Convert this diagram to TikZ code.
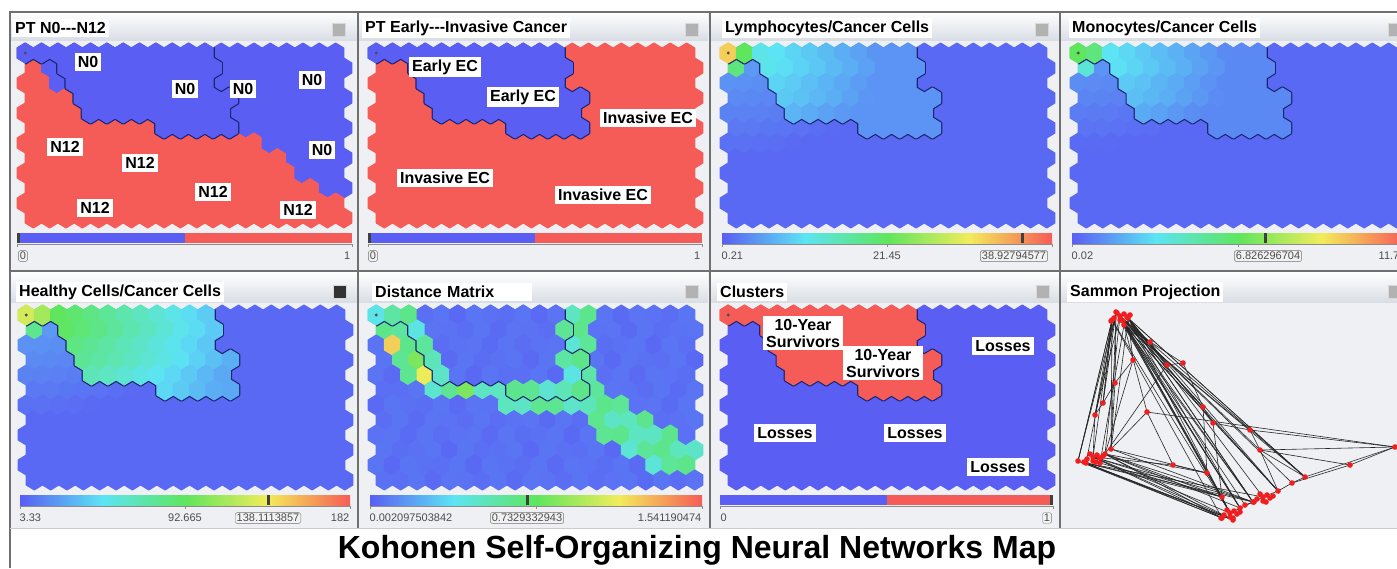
\documentclass[tikz,border=0pt]{standalone}
\usepackage{fontspec}
\setmainfont{Liberation Sans}
\usetikzlibrary{positioning,calc}
\definecolor{somblue}{HTML}{5A5EF3}
\definecolor{somred}{HTML}{F65C57}
\definecolor{somcyan}{HTML}{5CE4F4}
\definecolor{somgreen}{HTML}{5EE65E}
\definecolor{somyellow}{HTML}{F2EC5A}
\definecolor{panelgray}{HTML}{EEF0F3}
\definecolor{titlegray}{HTML}{D9DEE5}
\definecolor{framegray}{HTML}{707070}
\definecolor{edgenavy}{HTML}{1C2470}
\definecolor{dotred}{HTML}{F01E1E}

% hexagon half width and radius (pt)
\def\hexa{8.17}
\def\hexr{10}
% first / last column of each row for the cluster regions
\def\RL{{0,2,3,3,4,8,99,99,99,99,99,99}}
\def\RR{{11,11,11,12,12,12,-1,-1,-1,-1,-1,-1}}
\def\NL{{0,1,2,3,4,8,15,16,17,18,99,99}}
\def\DLa{{0,0,1,1,2,3,8,13,14,15,17,99}}
\def\DRa{{2,2,3,3,4,13,15,16,18,19,19,-1}}
\def\DLb{{12,11,12,11,12,99,99,99,99,99,99,99}}
\def\DRb{{13,12,13,12,13,-1,-1,-1,-1,-1,-1,-1}}

\newcommand\hexij[2]{({\mapx+\hexa*(1+2*#1+mod(#2,2))},{\mapy+1.5*\hexr*#2}) -- ++(\hexa,0.5*\hexr) -- ++(0,\hexr) -- ++(-\hexa,0.5*\hexr) -- ++(-\hexa,-0.5*\hexr) -- ++(0,-\hexr) -- cycle}

\newcommand\jetcolour[1]{%
  \pgfmathsetmacro\jv{4*min(max(#1,0),0.999)}%
  \pgfmathtruncatemacro\js{floor(\jv)}%
  \pgfmathtruncatemacro\jp{100*(\jv-\js)}%
  \ifcase\js\relax \colorlet{hexc}{somcyan!\jp!somblue}%
  \or \colorlet{hexc}{somgreen!\jp!somcyan}%
  \or \colorlet{hexc}{somyellow!\jp!somgreen}%
  \else \colorlet{hexc}{somred!\jp!somyellow}\fi}

\newcommand\hotspots[3]{%
  \ifnum\j=0 \ifnum\i=0 \def\vv{#1}\fi \ifnum\i=1 \def\vv{#2}\fi \fi
  \ifnum\j=1 \ifnum\i=0 \def\vv{#3}\fi \fi}

\newcommand\somcolour[1]{%
  \pgfmathtruncatemacro\inR{(\i>=\RL[\j])*(\i<=\RR[\j])}%
  \pgfmathsetmacro\dd{sqrt(\i*\i+1.69*\j*\j)}%
  \ifcase#1\relax
  \or % PT N0---N12
    \pgfmathtruncatemacro\inN{\i>=\NL[\j]}%
    \ifnum\inN=1 \colorlet{hexc}{somblue}\else\colorlet{hexc}{somred}\fi
  \or % PT Early---Invasive
    \ifnum\inR=1 \colorlet{hexc}{somblue}\else\colorlet{hexc}{somred}\fi
  \or % lymphocytes
    \ifnum\inR=1 \pgfmathsetmacro\vv{max(0.1,0.32-0.024*\dd)}\else\pgfmathsetmacro\vv{max(0.02,0.13-0.012*\dd)}\fi
    \hotspots{0.8}{0.5}{0.45}\jetcolour{\vv}%
  \or % monocytes
    \ifnum\inR=1 \pgfmathsetmacro\vv{max(0.08,0.3-0.024*\dd)}\else\pgfmathsetmacro\vv{max(0.02,0.12-0.012*\dd)}\fi
    \hotspots{0.5}{0.45}{0.3}\jetcolour{\vv}%
  \or % healthy cells
    \ifnum\inR=1 \pgfmathsetmacro\vv{max(0.14,0.57-0.033*\dd)}\else\pgfmathsetmacro\vv{max(0.02,0.13-0.012*\dd)}\fi
    \hotspots{0.7}{0.62}{0.42}\jetcolour{\vv}%
  \or % distance matrix
    \pgfmathtruncatemacro\inD{or(and(\i>=\DLa[\j],\i<=\DRa[\j]),and(\i>=\DLb[\j],\i<=\DRb[\j]))}%
    \ifnum\inD=1 \pgfmathsetmacro\vv{0.27+0.16*abs(sin(47*\i+83*\j))}\else\pgfmathsetmacro\vv{0.02+0.025*abs(sin(71*\i+29*\j))}\fi
    \ifnum\j=2 \ifnum\i=1 \def\vv{0.8}\fi\fi
    \ifnum\j=3 \ifnum\i=2 \def\vv{0.55}\fi\fi
    \ifnum\j=4 \ifnum\i=3 \def\vv{0.74}\fi\fi
    \ifnum\j=5 \ifnum\i=5 \def\vv{0.55}\fi\fi
    \jetcolour{\vv}%
  \or % clusters
    \ifnum\inR=1 \colorlet{hexc}{somred}\else\colorlet{hexc}{somblue}\fi
  \fi}

\def\survivorrows{0/0/11,1/2/11,2/3/11,3/3/12,4/4/12,5/8/12}

\newcommand\sommap[3]{%
  \def\mapx{#1}\def\mapy{#2}%
  \foreach \i in {0,...,19}{%
    \foreach \j in {0,...,11}{%
      \somcolour{#3}%
      \fill[hexc, draw=hexc, line width=1pt, line join=round] \hexij{\i}{\j};
    }%
  }%
  % outline of the survivor cluster
  \begin{scope}
    \clip \foreach \i in {0,...,19}{\foreach \j in {0,...,11}{\hexij{\i}{\j}}};
    \draw[edgenavy, line width=3.4pt, line join=round]
      \foreach \j/\lo/\hi in \survivorrows {\foreach \i in {\lo,...,\hi}{\hexij{\i}{\j}}};
  \end{scope}
  \foreach \j/\lo/\hi in \survivorrows {%
    \foreach \i in {\lo,...,\hi}{%
      \somcolour{#3}%
      \fill[hexc, draw=hexc, line width=1pt, line join=round] \hexij{\i}{\j};
    }%
  }%
  \fill[black!70] ({#1+\hexa},{#2+\hexr}) circle (1.6);
}

\newcommand\binbar[3]{%
  \pgfmathsetmacro\xm{(#1+#2)/2}%
  \fill[somblue] (#1,#3) rectangle (\xm,#3+10);
  \fill[somred] (\xm,#3) rectangle (#2,#3+10);
  \draw[black!45] (#1,#3+11) -- (#2,#3+11);
  \draw[black!45] (#1,#3+11) -- (#1,#3+14) (#2,#3+11) -- (#2,#3+14);
}
\newcommand\jetbar[4]{%
  \pgfmathsetmacro\xq{(#2-#1)/4}%
  \shade[left color=somblue, right color=somcyan] (#1,#3) rectangle ++(\xq+0.3,10);
  \shade[left color=somcyan, right color=somgreen] (#1+\xq,#3) rectangle ++(\xq+0.3,10);
  \shade[left color=somgreen, right color=somyellow] (#1+2*\xq,#3) rectangle ++(\xq+0.3,10);
  \shade[left color=somyellow, right color=somred] (#1+3*\xq,#3) rectangle ++(\xq,10);
  \draw[black!45] (#1,#3+11) -- (#2,#3+11);
  \draw[black!45] (#1,#3+11) -- (#1,#3+14) (#4,#3+11) -- (#4,#3+14) (#2,#3+11) -- (#2,#3+14);
}

\begin{document}
\begin{tikzpicture}[x=1pt, y=-1pt,
  somtitle/.style={fill=white, font=\bfseries\fontsize{16}{17}\selectfont, inner sep=3pt, anchor=west},
  somlabel/.style={fill=white, font=\bfseries\fontsize{16}{17}\selectfont, inner sep=3pt, align=center},
  ticklab/.style={font=\fontsize{11}{12}\selectfont, text=black!70, inner sep=1.5pt},
  boxlab/.style={ticklab, draw=black!55, fill=black!5, rounded corners=1.5pt},
  btn/.style={fill=black!30, draw=black!15, minimum size=13pt, inner sep=0pt},
  marker/.style={fill=black!75},
  sammonline/.style={black!85, line width=0.6pt},
  ]
  \useasboundingbox (0,0) rectangle (1397,568);
  \fill[white] (0,0) rectangle (1397,568);

  % panels
  \fill[panelgray] (10,12) rectangle (1397,528);
  \foreach \px in {10,358,710,1060} {
    \shade[top color=white, bottom color=titlegray] (\px,12) rectangle ++(350,28);
    \shade[top color=white, bottom color=titlegray] (\px,272) rectangle ++(350,30);
  }

  % maps
  \sommap{17}{43}{1}
  \sommap{368}{43}{2}
  \sommap{720}{43}{3}
  \sommap{1070}{43}{4}
  \sommap{18}{305}{5}
  \sommap{368}{305}{6}
  \sommap{720}{305}{7}

  % titles and buttons
  \node[somtitle] (tnodal) at (12,28) {PT N0-{}-{}-N12};
  \node[somtitle] (tinvasive) at (362,28) {PT Early-{}-{}-Invasive Cancer};
  \node[somtitle] (tlympho) at (722,28) {Lymphocytes/Cancer Cells};
  \node[somtitle] (tmono) at (1069,28) {Monocytes/Cancer Cells};
  \node[somtitle] (thealthy) at (16,292) {Healthy Cells/Cancer Cells};
  \node[somtitle, minimum width=160pt, text width=154pt] (tdist) at (372,292) {Distance Matrix};
  \node[somtitle] (tclusters) at (717,292) {Clusters};
  \node[somtitle] (tsammon) at (1067,292) {Sammon Projection};
  \node[btn] (bnodal) at (339,30) {};
  \node[btn] (binvasive) at (692,30) {};
  \node[btn] (blympho) at (1042,30) {};
  \node[btn] (bmono) at (1395,30) {};
  \node[btn, fill=black!80] (bhealthy) at (340,292) {};
  \node[btn] (bdist) at (692,292) {};
  \node[btn] (bclusters) at (1043,292) {};
  \node[btn] (bsammon) at (1395,292) {};

  % map labels
  \node[somlabel] (n0a) at (88,62) {N0};
  \node[somlabel] (n0b) at (185,89) {N0};
  \node[somlabel] (n0c) at (243,89) {N0};
  \node[somlabel] (n0d) at (312,80) {N0};
  \node[somlabel] (n0e) at (322,150) {N0};
  \node[somlabel] (n12a) at (65,147) {N12};
  \node[somlabel] (n12b) at (140,163) {N12};
  \node[somlabel] (n12c) at (213,192) {N12};
  \node[somlabel] (n12d) at (95,208) {N12};
  \node[somlabel] (n12e) at (298,210) {N12};
  \node[somlabel] (earlya) at (445,67) {Early EC};
  \node[somlabel] (earlyb) at (523,97) {Early EC};
  \node[somlabel] (invasa) at (648,118) {Invasive EC};
  \node[somlabel] (invasb) at (445,178) {Invasive EC};
  \node[somlabel] (invasc) at (603,195) {Invasive EC};
  \node[somlabel] (survivea) at (803,333) {10-Year\\Survivors};
  \node[somlabel] (surviveb) at (883,363) {10-Year\\Survivors};
  \node[somlabel] (lossa) at (1003,346) {Losses};
  \node[somlabel] (lossb) at (785,433) {Losses};
  \node[somlabel] (lossc) at (915,433) {Losses};
  \node[somlabel] (lossd) at (998,467) {Losses};

  % colour bars
  \binbar{17}{352}{233}
  \binbar{368}{702}{233}
  \jetbar{722}{1052}{233}{887}
  \jetbar{1072}{1405}{233}{1238}
  \jetbar{20}{350}{495}{185}
  \jetbar{370}{702}{495}{536}
  \binbar{720}{1053}{495}
  \fill[marker] (17,233) rectangle ++(3,10);
  \fill[marker] (368,233) rectangle ++(3,10);
  \fill[marker] (1020.5,233) rectangle ++(3,10);
  \fill[marker] (1263.5,233) rectangle ++(3,10);
  \fill[marker] (266.5,495) rectangle ++(3,10);
  \fill[marker] (525.5,495) rectangle ++(3,10);
  \fill[marker] (1050,495) rectangle ++(3,10);

  % colour bar values
  \node[boxlab] (lonodal) at (23,256) {0};
  \node[ticklab, anchor=east] (hinodal) at (352,256) {1};
  \node[boxlab] (loinvasive) at (373,256) {0};
  \node[ticklab, anchor=east] (hiinvasive) at (702,256) {1};
  \node[ticklab, anchor=west] (lolympho) at (720,256) {0.21};
  \node[ticklab] (midlympho) at (887,256) {21.45};
  \node[boxlab] (vallympho) at (1014,256) {38.92794577};
  \node[ticklab, anchor=west] (lomono) at (1070,256) {0.02};
  \node[boxlab] (valmono) at (1268,256) {6.826296704};
  \node[ticklab, anchor=west] (himono) at (1377,256) {11.7};
  \node[ticklab, anchor=west] (lohealthy) at (18,518) {3.33};
  \node[ticklab] (midhealthy) at (185,518) {92.665};
  \node[boxlab] (valhealthy) at (268,518) {138.1113857};
  \node[ticklab, anchor=east] (hihealthy) at (351,518) {182};
  \node[ticklab, anchor=west] (lodist) at (368,518) {0.002097503842};
  \node[boxlab] (valdist) at (527,518) {0.7329332943};
  \node[ticklab, anchor=east] (hidist) at (703,518) {1.541190474};
  \node[ticklab, anchor=west] (loclusters) at (719,518) {0};
  \node[boxlab] (hiclusters) at (1047,518) {1};

  % Sammon projection
  \coordinate (sa) at (1120,316); \coordinate (sb) at (1112,320);
  \coordinate (sc) at (1128,318); \coordinate (sd) at (1124,325);
  \coordinate (se) at (1116,312);
  \coordinate (la) at (1093,457); \coordinate (lb) at (1078,461);
  \coordinate (lc) at (1105,454); \coordinate (ld) at (1111,449);
  \coordinate (le) at (1086,463); \coordinate (lf) at (1100,463);
  \coordinate (ba) at (1230,513); \coordinate (bb) at (1222,518);
  \coordinate (bc) at (1240,508); \coordinate (bd) at (1233,520);
  \coordinate (be) at (1245,505);
  \coordinate (ca) at (1253,502); \coordinate (cb) at (1263,497);
  \coordinate (cc) at (1278,491); \coordinate (cd) at (1292,483);
  \coordinate (ce) at (1305,477);
  \coordinate (ra) at (1395,447); \coordinate (rb) at (1350,465);
  \coordinate (da) at (1150,342); \coordinate (db) at (1167,365);
  \coordinate (dc) at (1183,363); \coordinate (dd) at (1203,407);
  \coordinate (de) at (1213,423); \coordinate (df) at (1250,430);
  \coordinate (dg) at (1260,450);
  \coordinate (ea) at (1133,360); \coordinate (eb) at (1115,383);
  \coordinate (ec) at (1103,403); \coordinate (ed) at (1095,415);
  \coordinate (ee) at (1147,412);
  \coordinate (ma) at (1173,465); \coordinate (mb) at (1207,473);
  \coordinate (mc) at (1222,497);
  \foreach \a/\b in {sa/lc,sb/la,sc/ld,se/le,sd/lf,sb/lb,
      sb/ec,sa/ed,se/eb,sc/ea,sd/ee,
      sa/da,sc/db,sd/dc,sa/dd,sc/de,sd/df,sa/dg,se/dd,
      sc/cb,sd/cc,sa/cd,sc/ce,sb/ba,sd/bc,sa/mc,se/mb,sb/bb,sc/ca,se/be,
      la/ba,lb/bb,lc/bc,ld/ca,le/cb,lf/mc,la/ma,lc/mb,ld/mb,lb/bd,le/bd,
      lc/ea,ld/eb,ld/ee,lc/db,
      ee/ra,ra/df,ra/dg,ra/ce,ra/rb,rb/cd,rb/dg,
      da/db,db/dc,dc/dd,dd/de,de/df,df/dg,dg/ce,dd/mb,de/mc,dg/cc,
      ea/eb,eb/ec,ec/ed,ed/la,ee/ma,
      ma/mb,mb/mc,mc/ba,
      ba/ca,ca/cb,cb/cc,cc/cd,cd/ce,be/ca}
    \draw[sammonline] (\a) -- (\b);
  \foreach \a in {sa,sc,sd}
    \foreach \b in {ba,bc,ca,cc,ce}
      \draw[sammonline] (\a) -- (\b);
  \foreach \a in {la,lc,le}
    \foreach \b in {bb,bd,ca,mc}
      \draw[sammonline] (\a) -- (\b);
  \foreach \a in {sb,se}
    \foreach \b in {lb,ld,ec,ed}
      \draw[sammonline] (\a) -- (\b);
  \foreach \p in {sa,sb,sc,sd,se,la,lb,lc,ld,le,lf,ba,bb,bc,bd,be,ca,cb,cc,cd,ce,
      ra,rb,da,db,dc,dd,de,df,dg,ea,eb,ec,ed,ee,ma,mb,mc}
    \fill[dotred] (\p) circle (2.8);
  \foreach \p in {sa,la,ba,cb}
    \foreach \dx/\dy in {-6/2,-3/-3,4/-2,7/1,0/4,-9/5,3/5,10/-1}
      \fill[dotred] ([shift={(\dx,\dy)}]\p) circle (2.8);

  % frame
  \draw[framegray, line width=2pt] (10,568) -- (10,12) -- (1397,12);
  \draw[framegray, line width=2pt] (10,271) -- (1397,271);
  \foreach \px in {358,710,1060}
    \draw[framegray, line width=2pt] (\px,12) -- (\px,528);
  \draw[black!20] (10,528) -- (1397,528);

  \node[font=\bfseries\fontsize{32}{36}\selectfont, anchor=base] (caption) at (697,558) {Kohonen Self-Organizing Neural Networks Map};
\end{tikzpicture}
\end{document}
